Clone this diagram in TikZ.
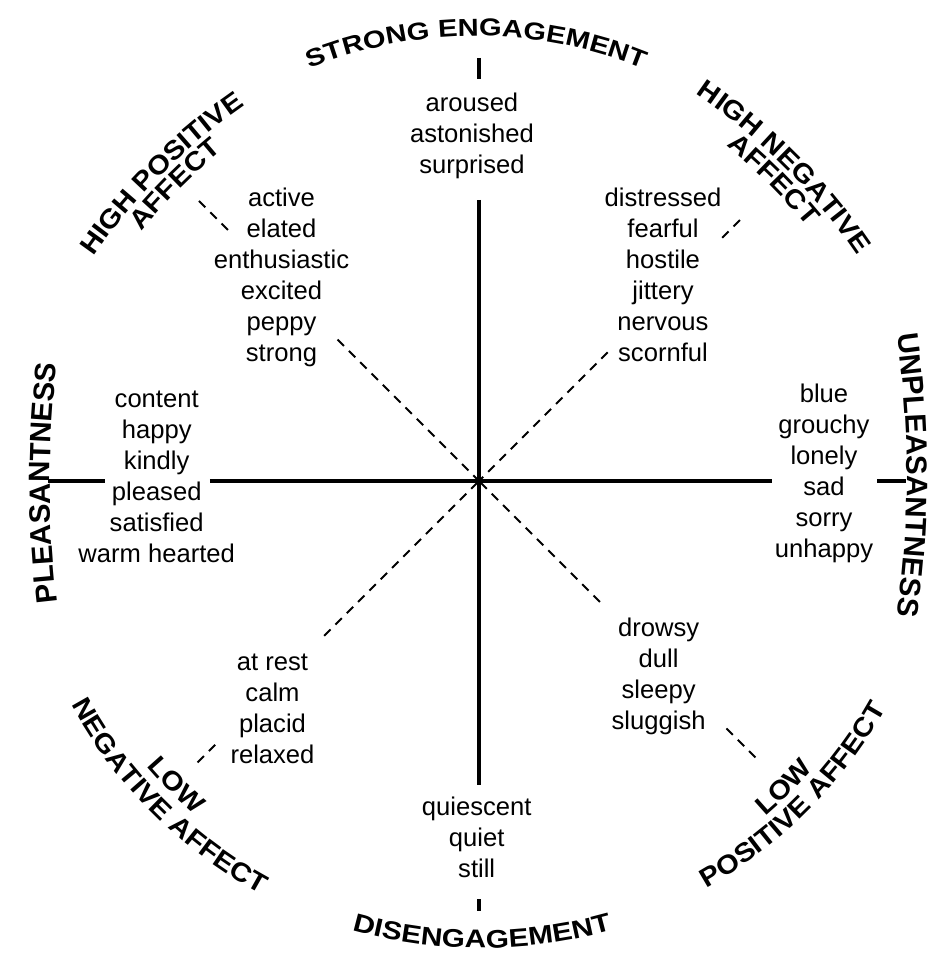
\documentclass[tikz,border=0pt]{standalone}
\usepackage{fontspec}
\setmainfont{Liberation Sans}
\newfontfamily\famH{Liberation Sans}[FakeStretch=1.19]
\newfontfamily\famB{Liberation Sans}[FakeStretch=1.17]
\newfontfamily\famD{Liberation Sans}[FakeStretch=1.1]
\usetikzlibrary{decorations.text,calc}
\newcommand\fTop{\famH\bfseries\fontsize{24.5}{24.5}\selectfont}
\newcommand\fBot{\famB\bfseries\fontsize{25.5}{25.5}\selectfont}
\newcommand\fSide{\bfseries\fontsize{29.5}{29.5}\selectfont}
\newcommand\fDiag{\famD\bfseries\fontsize{26.5}{26.5}\selectfont}
\newcommand\wl[1]{\begin{tabular}[t]{@{}c@{}}#1\end{tabular}}
% clockwise arc label: font, text, P, phi, R, Delta
\newcommand\cwlabel[6]{\path[curvelbl={#1}{#2}] ($(#3)-(#4:#5)+(#4+#6:#5)$) arc[start angle=#4+#6, end angle=#4-#6, radius=#5];}
\newcommand\ccwlabel[6]{\path[curvelbl={#1}{#2}] ($(#3)-(#4:#5)+(#4-#6:#5)$) arc[start angle=#4-#6, end angle=#4+#6, radius=#5];}
\begin{document}
\begin{tikzpicture}[x=1pt,y=1pt,
  axis/.style={line width=4.5pt},
  diag/.style={line width=2pt, dash pattern=on 9pt off 7pt},
  wordlist/.style={anchor=base, inner sep=0pt, font=\fontsize{25.6}{31}\selectfont},
  curvelbl/.style 2 args={decorate, decoration={text along path, text align=center, text={|#1|#2}}}
]
\fill[white] (-479,-473) rectangle (471,481);
\useasboundingbox (-479,-473) rectangle (471,481);
\coordinate (O) at (0,0);
% axes
\coordinate (vt1) at (0,423); \coordinate (vt2) at (0,402);
\coordinate (vm1) at (0,281); \coordinate (vm2) at (0,-304);
\coordinate (vb1) at (0,-418); \coordinate (vb2) at (0,-430);
\coordinate (hl1) at (-431,0); \coordinate (hl2) at (-374,0);
\coordinate (hm1) at (-269,0); \coordinate (hm2) at (293,0);
\coordinate (hr1) at (398,0); \coordinate (hr2) at (427,0);
\draw[axis] (vt1) -- (vt2);
\draw[axis] (vm1) -- (vm2);
\draw[axis] (vb1) -- (vb2);
\draw[axis] (hl1) -- (hl2);
\draw[axis] (hm1) -- (hm2);
\draw[axis] (hr1) -- (hr2);
% diagonals
\coordinate (dUL) at (135:200); \coordinate (dUR) at (45:182);
\coordinate (dLL) at (225:219); \coordinate (dLR) at (315:171);
\draw[diag] (dUL) -- (O);
\draw[diag] (dUR) -- (O);
\draw[diag] (dLL) -- (O);
\draw[diag] (dLR) -- (O);
\coordinate (sUL1) at (135:352); \coordinate (sUL2) at (135:396);
\coordinate (sUR1) at (45:343); \coordinate (sUR2) at (45:369);
\coordinate (sLL1) at (225:368); \coordinate (sLL2) at (225:398);
\coordinate (sLR1) at (315:344); \coordinate (sLR2) at (315:391);
\draw[diag] (sUL2) -- (sUL1);
\draw[diag] (sUR2) -- (sUR1);
\draw[diag] (sLL2) -- (sLL1);
\draw[diag] (sLR2) -- (sLR1);
% word lists
\node[wordlist] (wtop) at (-7,369) {\wl{aroused\\astonished\\surprised}};
\node[wordlist] (wul) at (-197.5,274.5) {\wl{active\\elated\\enthusiastic\\excited\\peppy\\strong}};
\node[wordlist] (wur) at (184,274.5) {\wl{distressed\\fearful\\hostile\\jittery\\nervous\\scornful}};
\node[wordlist] (wl) at (-322.3,74) {\wl{content\\happy\\kindly\\pleased\\satisfied\\warm hearted}};
\node[wordlist] (wr) at (345,79) {\wl{blue\\grouchy\\lonely\\sad\\sorry\\unhappy}};
\node[wordlist] (wlr) at (179.6,-155.7) {\wl{drowsy\\dull\\sleepy\\sluggish}};
\node[wordlist] (wll) at (-206.5,-189) {\wl{at rest\\calm\\placid\\relaxed}};
\node[wordlist] (wbot) at (-2.3,-334) {\wl{quiescent\\quiet\\still}};
% curved labels
\cwlabel{\fTop}{STRONG ENGAGEMENT}{-2.5,445}{90}{445}{35}
\ccwlabel{\fBot}{DISENGAGEMENT}{3,-467}{270}{480}{35}
\cwlabel{\fSide}{PLEASANTNESS}{-429,-2}{180}{1000}{20}
\cwlabel{\fSide}{UNPLEASANTNESS}{428,6}{0}{1000}{20}
\cwlabel{\fDiag}{HIGH POSITIVE}{-316.8,306.9}{135}{600}{35}
\cwlabel{\fDiag}{AFFECT}{-299.1,292.1}{135}{580}{35}
\cwlabel{\fDiag}{HIGH NEGATIVE}{305.5,313.9}{45}{600}{35}
\cwlabel{\fDiag}{AFFECT}{289.9,296.9}{45}{580}{35}
\ccwlabel{\fDiag}{LOW}{-309,-310.4}{225}{440}{35}
\ccwlabel{\fDiag}{NEGATIVE AFFECT}{-326.7,-332.3}{225}{470}{35}
\ccwlabel{\fDiag}{LOW}{311.1,-312.5}{315}{440}{35}
\ccwlabel{\fDiag}{POSITIVE AFFECT}{329.5,-329.5}{315}{470}{35}
\end{tikzpicture}
\end{document}
